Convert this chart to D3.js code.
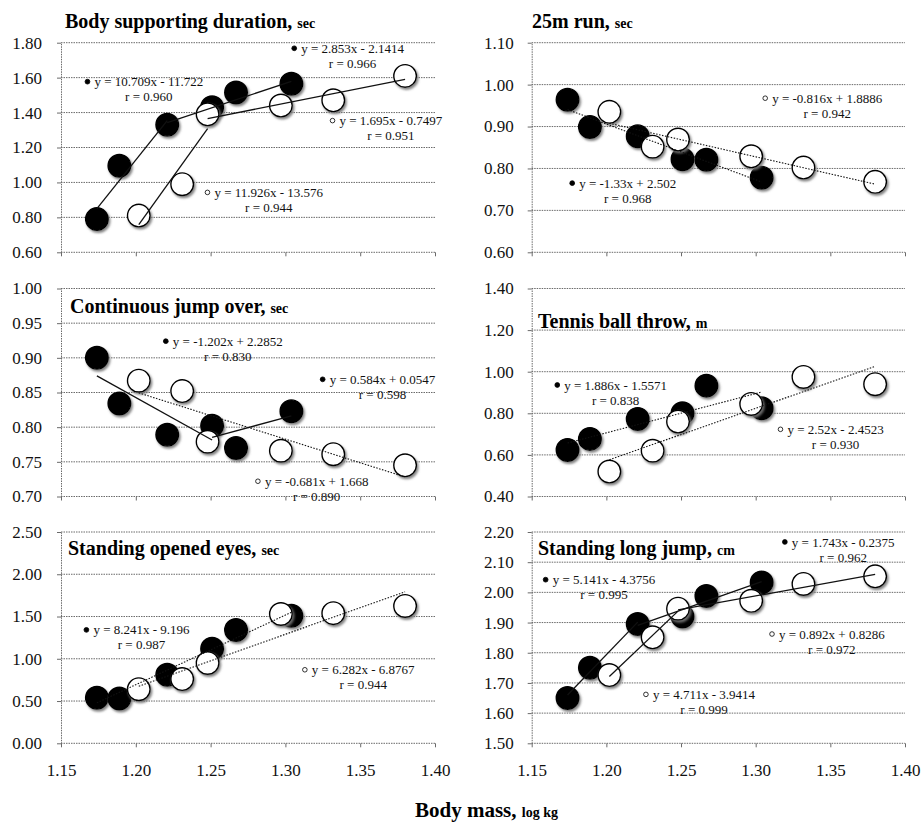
<!DOCTYPE html>
<html>
<head>
<meta charset="utf-8">
<script src="https://cdn.jsdelivr.net/npm/d3@7"></script>
<style>
  body { margin: 0; background: #fff; }
  svg text { font-family: "Liberation Serif", "Times New Roman", serif !important; }
</style>
</head>
<body>
<svg id="chart" width="922" height="826"></svg>
<script>
// body mass (log kg) of each group
const xTicks = [1.15, 1.20, 1.25, 1.30, 1.35, 1.40];
const massFilled = [1.174, 1.189, 1.221, 1.251, 1.267, 1.304];
const massOpen = [1.202, 1.231, 1.248, 1.297, 1.332, 1.380];

// y values (log) per test
const bodySupportFilled = [0.79, 1.095, 1.33, 1.43, 1.515, 1.565];
const bodySupportOpen = [0.81, 0.99, 1.39, 1.44, 1.47, 1.61];
const run25Filled = [0.964, 0.899, 0.877, 0.822, 0.821, 0.778];
const run25Open = [0.935, 0.852, 0.869, 0.829, 0.802, 0.768];
const jumpOverFilled = [0.900, 0.834, 0.789, 0.802, 0.770, 0.823];
const jumpOverOpen = [0.867, 0.852, 0.779, 0.766, 0.761, 0.745];
const tennisFilled = [0.624, 0.677, 0.773, 0.800, 0.933, 0.824];
const tennisOpen = [0.52, 0.62, 0.76, 0.845, 0.975, 0.94];
const eyesFilled = [0.54, 0.53, 0.81, 1.12, 1.34, 1.51];
const eyesOpen = [0.64, 0.76, 0.95, 1.53, 1.54, 1.625];
const longJumpFilled = [1.65, 1.75, 1.895, 1.92, 1.988, 2.033];
const longJumpOpen = [1.726, 1.851, 1.946, 1.972, 2.028, 2.053];

// regression lines: group, slope, intercept, r, first/last point index
const bodySupportFits = [
  { g: 'filled', a: 10.709, b: -11.722, r: 0.960, i0: 0, i1: 2 },
  { g: 'filled', a: 2.853, b: -2.1414, r: 0.966, i0: 2, i1: 5 },
  { g: 'open', a: 11.926, b: -13.576, r: 0.944, i0: 0, i1: 2 },
  { g: 'open', a: 1.695, b: -0.7497, r: 0.951, i0: 2, i1: 5 }
];
const run25Fits = [
  { g: 'filled', a: -1.33, b: 2.502, r: 0.968, i0: 0, i1: 5 },
  { g: 'open', a: -0.816, b: 1.8886, r: 0.942, i0: 0, i1: 5 }
];
const jumpOverFits = [
  { g: 'filled', a: -1.202, b: 2.2852, r: 0.830, i0: 0, i1: 3 },
  { g: 'filled', a: 0.584, b: 0.0547, r: 0.598, i0: 3, i1: 5 },
  { g: 'open', a: -0.681, b: 1.668, r: 0.890, i0: 0, i1: 5 }
];
const tennisFits = [
  { g: 'filled', a: 1.886, b: -1.5571, r: 0.838, i0: 0, i1: 5 },
  { g: 'open', a: 2.52, b: -2.4523, r: 0.930, i0: 0, i1: 5 }
];
const eyesFits = [
  { g: 'filled', a: 8.241, b: -9.196, r: 0.987, i0: 0, i1: 5 },
  { g: 'open', a: 6.282, b: -6.8767, r: 0.944, i0: 0, i1: 5 }
];
const longJumpFits = [
  { g: 'filled', a: 5.141, b: -4.3756, r: 0.995, i0: 0, i1: 2 },
  { g: 'filled', a: 1.743, b: -0.2375, r: 0.962, i0: 2, i1: 5 },
  { g: 'open', a: 4.711, b: -3.9414, r: 0.999, i0: 0, i1: 2 },
  { g: 'open', a: 0.892, b: 0.8286, r: 0.972, i0: 2, i1: 5 }
];

const serif = '"Liberation Serif", "Times New Roman", serif';
const svg = d3.select('#chart');

const defs = svg.append('defs');
defs.append('filter').attr('id', 'shadow')
  .attr('x', '-50%').attr('y', '-50%').attr('width', '200%').attr('height', '200%')
  .append('feDropShadow')
  .attr('dx', 1.5).attr('dy', 2).attr('stdDeviation', 1.3)
  .attr('flood-color', '#777').attr('flood-opacity', 0.9);

const cols = [{ x0: 61, x1: 435, pad: 15 }, { x0: 531.7, x1: 905, pad: 14 }];
const rows = [{ y0: 42.7, y1: 252.3 }, { y0: 288.5, y1: 496.5 }, { y0: 532, y1: 743.3 }];

// panel layout: title place, label anchors (data units, order = fits order)
const panels = [
  { title: 'Body supporting duration,', unit: 'sec', col: 0, row: 0, tx: 65, ty: 28,
    filled: bodySupportFilled, open: bodySupportOpen, fits: bodySupportFits,
    dom: [0.6, 1.8], step: 0.2, dotted: false,
    labels: [[1.2087, 1.577], [1.3449, 1.768], [1.2889, 0.943], [1.3705, 1.354]] },
  { title: '25m run,', unit: 'sec', col: 1, row: 0, tx: 532, ty: 28,
    filled: run25Filled, open: run25Open, fits: run25Fits,
    dom: [0.6, 1.1], step: 0.1, dotted: true,
    labels: [[1.2143, 0.765], [1.3479, 0.9676]] },
  { title: 'Continuous jump over,', unit: 'sec', col: 0, row: 1, tx: 70, ty: 313,
    filled: jumpOverFilled, open: jumpOverOpen, fits: jumpOverFits,
    dom: [0.7, 1.0], step: 0.05, dotted: 'open',
    labels: [[1.2615, 0.924], [1.3649, 0.869], [1.3209, 0.722]] },
  { title: 'Tennis ball throw,', unit: 'm', col: 1, row: 1, tx: 538, ty: 328,
    filled: tennisFilled, open: tennisOpen, fits: tennisFits,
    dom: [0.4, 1.4], step: 0.2, dotted: true,
    labels: [[1.2062, 0.936], [1.3535, 0.723]] },
  { title: 'Standing opened eyes,', unit: 'sec', col: 0, row: 2, tx: 68, ty: 555,
    filled: eyesFilled, open: eyesOpen, fits: eyesFits,
    dom: [0, 2.5], step: 0.5, dotted: true,
    labels: [[1.2038, 1.342], [1.352, 0.870]] },
  { title: 'Standing long jump,', unit: 'cm', col: 1, row: 2, tx: 538, ty: 555,
    filled: longJumpFilled, open: longJumpOpen, fits: longJumpFits,
    dom: [1.5, 2.2], step: 0.1, dotted: false,
    labels: [[1.1984, 2.042], [1.3586, 2.167], [1.2654, 1.662], [1.351, 1.862]] }
];

const gridColor = '#6a6a6a';

panels.forEach(p => {
  const c = cols[p.col], r = rows[p.row];
  const x = d3.scaleLinear().domain([1.15, 1.40]).range([c.x0, c.x1]);
  const y = d3.scaleLinear().domain(p.dom).range([r.y1, r.y0]);
  const ticks = d3.range(p.dom[0], p.dom[1] + p.step / 2, p.step).map(v => +v.toFixed(2));
  const g = svg.append('g');

  // gridlines
  g.append('g').selectAll('line').data(ticks).join('line')
    .attr('x1', c.x0).attr('x2', c.x1)
    .attr('y1', d => y(d)).attr('y2', d => y(d))
    .attr('stroke', gridColor).attr('stroke-width', 1)
    .attr('stroke-dasharray', '1.5,1');

  // y axis
  const ya = g.append('g').attr('transform', `translate(${c.x0},0)`)
    .call(d3.axisLeft(y).tickValues(ticks).tickSize(4).tickSizeOuter(0)
      .tickPadding(c.pad).tickFormat(d3.format('.2f')))
    .attr('font-family', serif).attr('font-size', 17);
  ya.select('.domain').attr('stroke', gridColor).attr('stroke-dasharray', '1.5,1');
  ya.selectAll('.tick line').attr('stroke', gridColor);
  ya.selectAll('.tick text').attr('fill', '#111');

  // x axis ticks
  const xa = g.append('g').attr('transform', `translate(0,${r.y1})`)
    .call(d3.axisBottom(x).tickValues(xTicks).tickSize(4).tickSizeOuter(0)
      .tickPadding(17).tickFormat(p.row === 2 ? d3.format('.2f') : ''))
    .attr('font-family', serif).attr('font-size', 17);
  xa.select('.domain').remove();
  xa.selectAll('.tick line').attr('stroke', gridColor);
  xa.selectAll('.tick text').attr('fill', '#111');

  // points: filled group first, open group on top
  const pts = [
    ...p.filled.map((v, i) => ({ g: 'filled', x: massFilled[i], y: v })),
    ...p.open.map((v, i) => ({ g: 'open', x: massOpen[i], y: v }))
  ];
  g.append('g').selectAll('circle').data(pts).join('circle')
    .attr('cx', d => x(d.x)).attr('cy', d => y(d.y)).attr('r', 11.3)
    .attr('fill', d => d.g === 'filled' ? '#000' : '#fff')
    .attr('stroke', '#000').attr('stroke-width', 1.4)
    .attr('filter', 'url(#shadow)');

  // regression lines
  const isDotted = f => p.dotted === true || p.dotted === f.g;
  g.append('g').selectAll('line').data(p.fits).join('line')
    .each(function (f) {
      const xs = f.g === 'filled' ? massFilled : massOpen;
      const xa0 = xs[f.i0], xa1 = xs[f.i1];
      d3.select(this)
        .attr('x1', x(xa0)).attr('y1', y(f.a * xa0 + f.b))
        .attr('x2', x(xa1)).attr('y2', y(f.a * xa1 + f.b));
    })
    .attr('stroke', '#111')
    .attr('stroke-width', d => isDotted(d) ? 1.1 : 1.3)
    .attr('stroke-dasharray', d => isDotted(d) ? '1.5,1.5' : null);

  // equation labels
  p.fits.forEach((f, k) => {
    const [lx, ly] = p.labels[k];
    const cx = x(lx), cy = y(ly);
    const eq = `y = ${f.a}x ${f.b < 0 ? '-' : '+'} ${Math.abs(f.b)}`;
    const t = g.append('text').attr('x', cx).attr('y', cy).attr('dy', '0.35em')
      .attr('text-anchor', 'middle').attr('font-size', 13).attr('fill', '#111').text(eq);
    g.append('text').attr('x', cx).attr('y', cy + 15).attr('dy', '0.35em')
      .attr('text-anchor', 'middle').attr('font-size', 13).attr('fill', '#111')
      .text(`r = ${f.r.toFixed(3)}`);
    const w = t.node().getComputedTextLength();
    g.append('circle').attr('cx', cx - w / 2 - 7).attr('cy', cy)
      .attr('r', f.g === 'filled' ? 2.4 : 2.3)
      .attr('fill', f.g === 'filled' ? '#000' : '#fff')
      .attr('stroke', '#000').attr('stroke-width', 0.8);
  });

  // title
  const tt = g.append('text').attr('x', p.tx).attr('y', p.ty)
    .attr('font-weight', 'bold').attr('fill', '#000');
  tt.append('tspan').attr('font-size', 20).text(p.title + ' ');
  tt.append('tspan').attr('font-size', 14).text(p.unit);
});

// x axis title
const xt = svg.append('text').attr('x', 415).attr('y', 817)
  .attr('font-weight', 'bold').attr('fill', '#000');
xt.append('tspan').attr('font-size', 21).text('Body mass, ');
xt.append('tspan').attr('font-size', 14).text('log kg');
</script>
</body>
</html>
